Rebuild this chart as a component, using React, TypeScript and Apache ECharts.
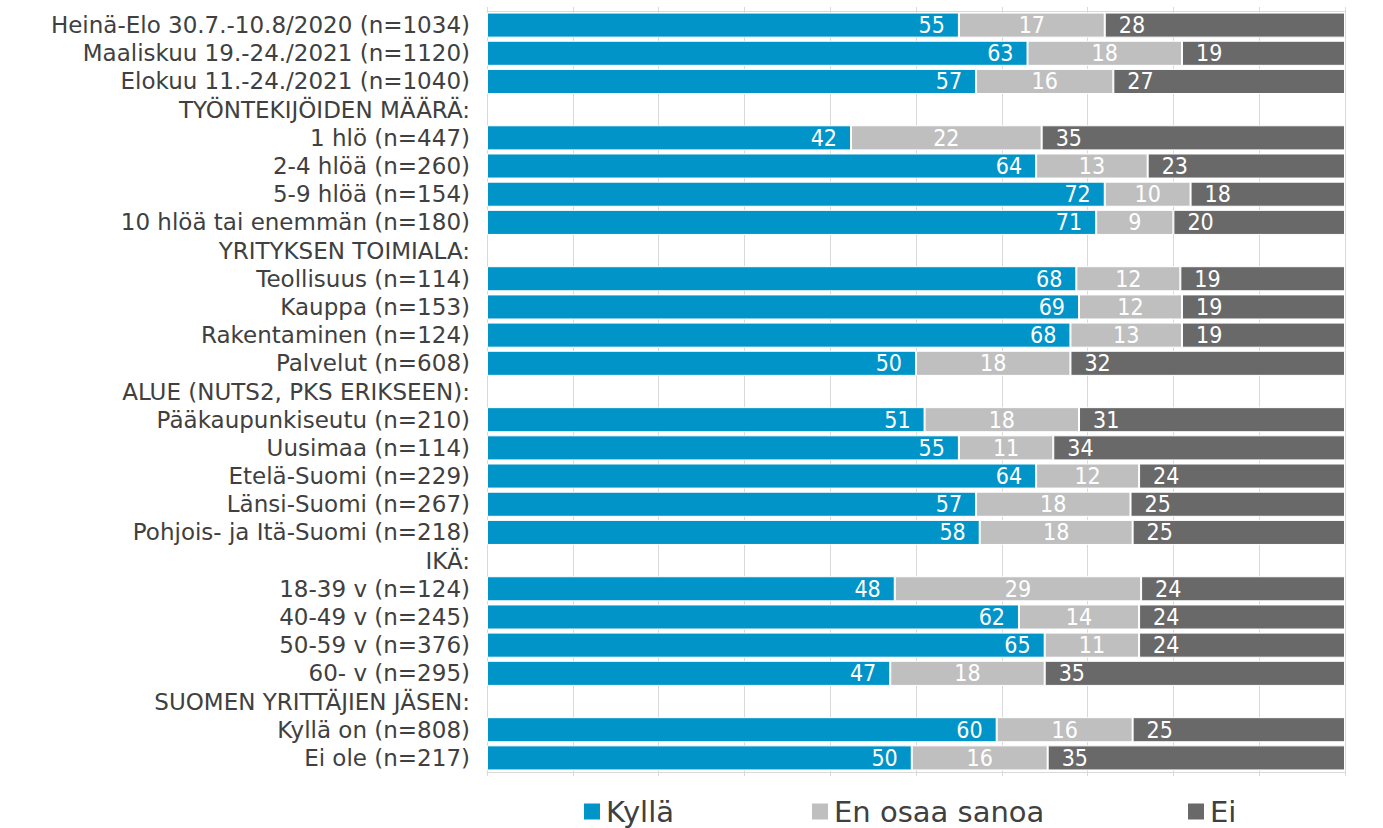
import React, { useEffect, useRef } from "react";
import * as echarts from "echarts";

const categories = [
  "Heinä-Elo 30.7.-10.8/2020 (n=1034)",
  "Maaliskuu 19.-24./2021 (n=1120)",
  "Elokuu 11.-24./2021 (n=1040)",
  "TYÖNTEKIJÖIDEN MÄÄRÄ:",
  "1 hlö (n=447)",
  "2-4 hlöä (n=260)",
  "5-9 hlöä (n=154)",
  "10 hlöä tai enemmän (n=180)",
  "YRITYKSEN TOIMIALA:",
  "Teollisuus (n=114)",
  "Kauppa (n=153)",
  "Rakentaminen (n=124)",
  "Palvelut (n=608)",
  "ALUE (NUTS2, PKS ERIKSEEN):",
  "Pääkaupunkiseutu (n=210)",
  "Uusimaa (n=114)",
  "Etelä-Suomi (n=229)",
  "Länsi-Suomi (n=267)",
  "Pohjois- ja Itä-Suomi (n=218)",
  "IKÄ:",
  "18-39 v (n=124)",
  "40-49 v (n=245)",
  "50-59 v (n=376)",
  "60- v (n=295)",
  "SUOMEN YRITTÄJIEN JÄSEN:",
  "Kyllä on (n=808)",
  "Ei ole (n=217)",
];

const kylla = [55, 63, 57, null, 42, 64, 72, 71, null, 68, 69, 68, 50, null, 51, 55, 64, 57, 58, null, 48, 62, 65, 47, null, 60, 50];
const enOsaa = [17, 18, 16, null, 22, 13, 10, 9, null, 12, 12, 13, 18, null, 18, 11, 12, 18, 18, null, 29, 14, 11, 18, null, 16, 16];
const ei = [28, 19, 27, null, 35, 23, 18, 20, null, 19, 19, 19, 32, null, 31, 34, 24, 25, 25, null, 24, 24, 24, 35, null, 25, 35];

const seriesNames = ["Kyllä", "En osaa sanoa", "Ei"];
const seriesColors = ["#0094C8", "#BFBFBF", "#696969"];
const legendLefts = [577, 805, 1181];

export default function App() {
  const ref = useRef<HTMLDivElement>(null);
  useEffect(() => {
    if (!ref.current) return;
    const chart = echarts.init(ref.current, null, { renderer: "svg" });
    const raw = [kylla, enOsaa, ei];
    const totals = categories.map((_, i) =>
      raw.reduce((s, arr) => s + (arr[i] == null ? 0 : (arr[i] as number)), 0)
    );
    const positions = ["insideRight", "inside", "insideLeft"];
    const series = raw.map((arr, si) => ({
      name: seriesNames[si],
      type: "bar",
      stack: "total",
      barCategoryGap: "11%",
      itemStyle: { color: seriesColors[si], borderColor: "#ffffff", borderWidth: 1 },
      label: {
        show: true,
        position: positions[si],
        distance: 14,
        color: "#ffffff",
        fontFamily: "DejaVu Sans Condensed",
        fontSize: 23,
        formatter: (p: any) => (p.data && p.data.raw != null ? String(p.data.raw) : ""),
      },
      data: arr.map((v, i) =>
        v == null ? { value: null, raw: null } : { value: (v / totals[i]) * 100, raw: v }
      ),
    }));
    const xAxisBase = {
      type: "value",
      min: 0,
      max: 100,
      interval: 10,
      axisLabel: { show: false },
      splitLine: { show: true, lineStyle: { color: "#D9D9D9", width: 1 } },
      axisLine: { show: true, lineStyle: { color: "#D9D9D9" } },
      axisTick: { show: true, length: 4, lineStyle: { color: "#D9D9D9" } },
    };
    const legends = seriesNames.map((name, i) => ({
      data: [name],
      left: legendLefts[i],
      top: 792,
      itemWidth: 18,
      itemHeight: 18,
      itemGap: 5,
      icon: "rect",
      textStyle: { fontFamily: "DejaVu Sans", fontSize: 29, lineHeight: 28, color: "#404040" },
    }));
    chart.setOption({
      animation: false,
      grid: { left: 487, right: 38, top: 11, bottom: 56, containLabel: false },
      legend: legends,
      xAxis: [
        { ...xAxisBase, position: "bottom" },
        { ...xAxisBase, position: "top", splitLine: { show: false } },
      ],
      yAxis: {
        type: "category",
        inverse: true,
        data: categories,
        axisLine: { show: true, lineStyle: { color: "#D9D9D9" } },
        axisTick: { show: false },
        axisLabel: {
          interval: 0,
          margin: 17,
          fontFamily: "DejaVu Sans",
          fontSize: 23,
          color: "#404040",
        },
      },
      series,
    });
    return () => chart.dispose();
  }, []);
  return <div ref={ref} style={{ width: 1383, height: 828, position: "absolute", left: 0, top: 0 }} />;
}
